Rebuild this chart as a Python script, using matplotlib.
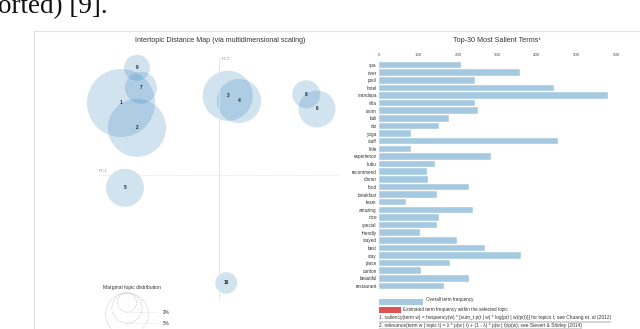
import numpy as np
import matplotlib
matplotlib.use("Agg")
from matplotlib import pyplot as plt
from matplotlib.patches import Circle, Rectangle
from matplotlib.lines import Line2D

W, H = 640, 329

# topic map: MDS coordinates and marginal topic distribution (%)
topic_ids = [1, 2, 3, 4, 5, 6, 7, 8, 9, 10]
pc1 = [-0.245, -0.205, 0.022, 0.050, -0.235, 0.245, -0.195, 0.218, -0.205, 0.018]
pc2 = [0.180, 0.118, 0.198, 0.185, -0.032, 0.165, 0.218, 0.202, 0.268, -0.270]
topic_freq = [25.4, 18.5, 13.8, 10.7, 7.9, 7.5, 5.6, 4.3, 3.7, 2.6]
legend_freq = [2, 5, 10]

# top-30 salient terms and overall frequency
terms = ['spa', 'river', 'pool', 'hotel', 'mandapa', 'villa', 'room', 'bali', 'ritz', 'yoga',
         'staff', 'little', 'experience', 'kubu', 'recommend', 'dinner', 'food', 'breakfast',
         'team', 'amazing', 'nice', 'special', 'friendly', 'stayed', 'best', 'stay', 'place',
         'carlton', 'beautiful', 'restaurant']
term_freq = [207, 357, 243, 443, 579, 244, 251, 176, 152, 81,
             452, 81, 283, 143, 122, 124, 227, 148,
             69, 239, 153, 148, 105, 197, 269, 360, 179,
             107, 229, 165]
freq_ticks = [0, 100, 200, 300, 400, 500, 600]

FONT = 'Liberation Sans'
BLUE = '#1f77b4'
GRID = '#e2e2e2'
TXT = '#333333'


def fx(x):
    return x / W


def fy(y):
    return 1 - y / H


fig = plt.figure(figsize=(W / 100, H / 100), dpi=100)
plt.rcParams['font.family'] = FONT

# bit of the paper text above the screenshot
fig.text(fx(-2), fy(13.5), 'orted) [9].', family='Liberation Serif', fontsize=19.5,
         color='#111111', ha='left', va='baseline')

# screenshot frame
fig.add_artist(Line2D([fx(34), fx(640)], [fy(31), fy(31)], color='#e4e4e4', lw=0.8))
fig.add_artist(Line2D([fx(34), fx(34)], [fy(31), fy(329)], color='#dcdcdc', lw=0.8))

# ---- intertopic distance map ----
ax1 = fig.add_axes([fx(40), 0, 305 / W, 284 / H])
ax1.set_xlim(-0.4475, 0.315)
ax1.set_ylim(-0.385, 0.325)
ax1.axis('off')

k = 0.0169  # radius per sqrt(percent)
ax1.plot([-0.30, 0.30], [0, 0], color=GRID, lw=0.6, ls=(0, (1, 1)))
ax1.plot([0, 0], [-0.31, 0.295], color=GRID, lw=0.6)
ax1.text(-0.30, 0.004, 'PC1', fontsize=3.2, color='#999999', ha='left', va='bottom')
ax1.text(0.006, 0.295, 'PC2', fontsize=3.2, color='#999999', ha='left', va='top')

for x, y, f in zip(pc1, pc2, topic_freq):
    ax1.add_patch(Circle((x, y), k * np.sqrt(f), facecolor=BLUE, alpha=0.2,
                         edgecolor='none', clip_on=False))
for t, x, y in zip(topic_ids, pc1, pc2):
    ax1.text(x, y, str(t), fontsize=3.4, fontweight='bold', color='#222222',
             ha='center', va='center')

# marginal topic distribution legend (the 10% label falls below the crop)
top = -0.295
lx = -0.23
ax1.text(-0.2165, -0.28, 'Marginal topic distribution', fontsize=3.6, color=TXT,
         ha='center', va='center')
for f in legend_freq:
    r = k * np.sqrt(f)
    ax1.add_patch(Circle((lx, top - r), r, facecolor='none', edgecolor='#bbbbbb',
                         lw=0.5, ls=(0, (1.5, 1.5)), clip_on=False))
    ax1.plot([lx, -0.152], [top - 2 * r, top - 2 * r], color='#dddddd', lw=0.5,
             ls=(0, (1.5, 1.5)), clip_on=False)
    if f < 10:
        ax1.text(-0.14, top - 2 * r, f'{f}%', fontsize=3.3, color=TXT, ha='left',
                 va='center')

fig.text(fx(220), fy(41), 'Intertopic Distance Map (via multidimensional scaling)',
         fontsize=5.1, color=TXT, ha='center', va='center')

# ---- salient terms bar chart ----
ax2 = fig.add_axes([fx(379), (H - 289.8) / H, 237 / W, 228.6 / H])
y = np.arange(len(terms))
ax2.barh(y, term_freq, height=0.86, color='#a5c9e1', edgecolor='white', lw=0.3)
ax2.set_xlim(0, 600)
ax2.set_ylim(len(terms) - 0.5, -0.5)
ax2.set_yticks(y)
ax2.set_yticklabels(terms)
ax2.set_xticks(freq_ticks)
ax2.xaxis.tick_top()
ax2.tick_params(axis='x', length=0, pad=3.2, labelsize=3.2, labelcolor='#555555')
ax2.tick_params(axis='y', length=0, pad=1.6, labelsize=3.3, labelcolor=TXT)
for s in ax2.spines.values():
    s.set_visible(False)

fig.text(fx(497), fy(41), 'Top-30 Most Salient Terms\u00b9', fontsize=5.2, color=TXT,
         ha='center', va='center')

# legend + footnotes
fig.add_artist(Rectangle((fx(379), fy(305)), 44 / W, 6 / H, transform=fig.transFigure,
                         facecolor='#a5c9e1', edgecolor='none'))
fig.add_artist(Rectangle((fx(379), fy(313)), 22 / W, 6 / H, transform=fig.transFigure,
                         facecolor='#dc5353', edgecolor='none'))
fig.text(fx(426), fy(300), 'Overall term frequency', fontsize=3.3, color=TXT, va='center')
fig.text(fx(403), fy(309), 'Estimated term frequency within the selected topic',
         fontsize=3.3, color=TXT, va='center')

notes = [
    '1. saliency(term w) = frequency(w) * [sum_t p(t | w) * log(p(t | w)/p(t))] for topics t; see Chuang et. al (2012)',
    '2. relevance(term w | topic t) = \u03bb * p(w | t) + (1 - \u03bb) * p(w | t)/p(w); see Sievert & Shirley (2014)',
]
note_txt = []
for i, n in enumerate(notes):
    note_txt.append(fig.text(fx(379), fy(318 + 7.5 * i), n, fontsize=3.5, color=TXT,
                             va='center'))

fig.canvas.draw()
r = fig.canvas.get_renderer()
for i, t in enumerate(note_txt):
    bb = t.get_window_extent(r)
    yy = fy(321.5 + 7.5 * i)
    fig.add_artist(Line2D([bb.x0 / W, bb.x1 / W], [yy, yy], color=TXT, lw=0.3))

fig.savefig('out.png', dpi=100)
